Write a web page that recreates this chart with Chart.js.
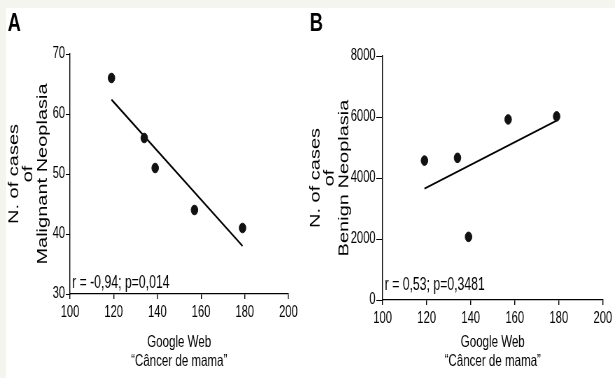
<!DOCTYPE html>
<html>
<head>
<meta charset="utf-8">
<script src="https://cdn.jsdelivr.net/npm/chart.js@4"></script>
<style>
  body { margin: 0; background: #f5f5f0; }
  #page { position: relative; width: 615px; height: 378px; overflow: hidden; }
  #paper { position: absolute; left: 6px; top: 8px; right: 0; bottom: 0; background: #fff; }
  .panel { position: absolute; top: 0; transform: scaleX(0.7); transform-origin: 0 0; }
  #pa { left: 0; }
  #pb { left: 307px; }
  canvas { display: block; }
</style>
</head>
<body>
<div id="page">
  <div id="paper"></div>
  <div class="panel" id="pa"><canvas id="chartA" width="439" height="378"></canvas></div>
  <div class="panel" id="pb"><canvas id="chartB" width="440" height="378"></canvas></div>
</div>
<script>
// values
const searchVolume = [119, 134, 139, 157, 179];      // Google Web "Câncer de mama"
const malignantCases = [66, 56, 51, 44, 41];
const benignCases = [4570, 4660, 2070, 5920, 6020];

// regression line end points
const fitX = [119, 179];
const malignantFit = [62.4, 38.0];
const benignFit = [3650, 5880];

// axis ranges: [min, max, step]
const xRange = [100, 200, 20];
const malignantRange = [30, 70, 10];
const benignRange = [0, 8000, 2000];

const xTitle = ["Google Web", "\u201CC\u00E2ncer de mama\u201D"];
const malignantTitle = ["N. of cases", "of", "Malignant Neoplasia"];
const benignTitle = ["N. of cases", "of", "Benign Neoplasia"];

Chart.defaults.font.family = "'Liberation Sans', Arial, sans-serif";
Chart.defaults.color = "#000";

// panel letter + r/p note
const panelText = {
  id: "panelText",
  afterDraw(chart, args, opts) {
    const ctx = chart.ctx;
    ctx.save();
    ctx.fillStyle = "#000";
    ctx.textAlign = "left";
    ctx.textBaseline = "alphabetic";
    ctx.font = 'bold 26px "Liberation Sans", Arial, sans-serif';
    ctx.fillText(opts.letter, opts.letterX, 31);
    ctx.font = '17.5px "Liberation Sans", Arial, sans-serif';
    ctx.fillText(opts.note, chart.chartArea.left + 3, chart.chartArea.bottom - opts.noteGap);
    ctx.restore();
  }
};

function makeChart(id, yValues, fitY, yRange, yTitle, o) {
  const ctx = document.getElementById(id);
  const tickFont = { size: 16 };
  return new Chart(ctx, {
    type: "scatter",
    data: {
      datasets: [
        {
          data: searchVolume.map((x, i) => ({ x: x, y: yValues[i] })),
          backgroundColor: "#111",
          borderColor: "#111",
          pointRadius: 4.8
        },
        {
          type: "line",
          data: fitX.map((x, i) => ({ x: x, y: fitY[i] })),
          borderColor: "#000",
          borderWidth: 2,
          pointRadius: 0,
          fill: false
        }
      ]
    },
    options: {
      responsive: false,
      animation: false,
      devicePixelRatio: 1,
      layout: { padding: { left: 0, top: o.top, right: o.right, bottom: 0 } },
      plugins: {
        legend: { display: false },
        tooltip: { enabled: false },
        panelText: { letter: o.letter, letterX: o.letterX, note: o.note, noteGap: o.noteGap }
      },
      scales: {
        x: {
          type: "linear",
          min: xRange[0], max: xRange[1],
          afterFit: s => { s.height = 378 - o.top - o.plotH; },
          ticks: { stepSize: xRange[2], font: tickFont, padding: 4, maxRotation: 0 },
          grid: { drawOnChartArea: false, drawTicks: true, tickLength: 5, tickColor: "#000", lineWidth: 1.4 },
          border: { color: "#000", width: 1.2 },
          title: {
            display: true, text: xTitle,
            font: { size: 16.5, lineHeight: 1.15 },
            padding: { top: 0, bottom: o.xTitlePad }
          }
        },
        y: {
          min: yRange[0], max: yRange[1],
          afterFit: s => { s.width = o.yWidth; },
          ticks: { stepSize: yRange[2], font: tickFont, padding: 1, callback: v => String(v) },
          grid: { drawOnChartArea: false, drawTicks: true, tickLength: o.yTick, tickColor: "#000", lineWidth: 1 },
          border: { color: "#000", width: 1.4 },
          title: {
            display: true, text: yTitle,
            font: { size: 20, lineHeight: o.yLine },
            padding: { top: o.yTitlePad, bottom: 0 }
          }
        }
      }
    },
    plugins: [panelText]
  });
}

makeChart("chartA", malignantCases, malignantFit, malignantRange, malignantTitle, {
  top: 54, plotH: 240, right: 27, yWidth: 100, yTick: 6, yLine: 1.03, yTitlePad: 10,
  xTitlePad: 7, letter: "A", letterX: 11, note: "r = -0,94; p=0,014", noteGap: 6
});

makeChart("chartB", benignCases, benignFit, benignRange, benignTitle, {
  top: 56, plotH: 244, right: 16, yWidth: 108, yTick: 9, yLine: 1.02, yTitlePad: 2,
  xTitlePad: 7, letter: "B", letterX: 4, note: "r = 0,53; p=0,3481", noteGap: 10
});
</script>
</body>
</html>
